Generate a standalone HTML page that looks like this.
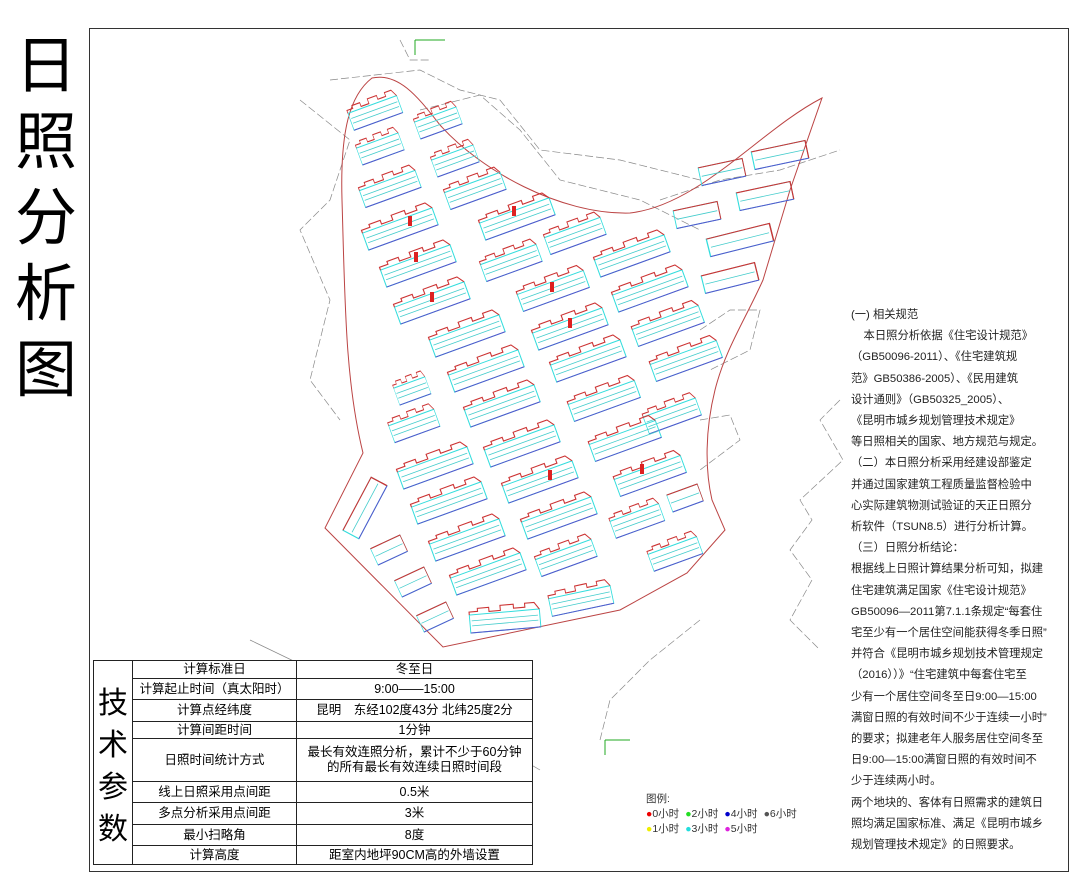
<!DOCTYPE html>
<html><head><meta charset="utf-8"><style>
body{margin:0;width:1080px;height:884px;background:#fff;position:relative;overflow:hidden;font-family:"Liberation Sans","Noto Sans CJK SC",sans-serif;}
.title{position:absolute;left:10px;top:22px;width:72px;font-size:62px;line-height:76px;text-align:center;color:#000;font-family:"Noto Sans CJK SC",sans-serif;}
.frame{position:absolute;left:89px;top:28px;width:978px;height:842px;border:1px solid #333;}
table{position:absolute;left:93px;top:660px;border-collapse:collapse;font-size:12.5px;font-family:"Liberation Sans","Noto Sans CJK SC",sans-serif;background:#fff;}
td{border:1.5px solid #222;text-align:center;padding:0;line-height:15px;}
.rt{position:absolute;left:851px;top:305px;width:220px;font-size:11.3px;line-height:21.2px;color:#222;white-space:nowrap;font-family:"Liberation Sans","Noto Sans CJK SC",sans-serif;}
.lg{position:absolute;left:646px;top:792px;font-size:10.5px;line-height:15px;color:#333;}
.lg span{margin-right:6px}
</style></head><body>
<div class="title">日<br>照<br>分<br>析<br>图</div>
<div class="frame"></div>
<svg width="1080" height="884" style="position:absolute;left:0;top:0">
<defs>
<g id="b">
<rect x="-37" y="-8" width="74" height="18" fill="none" stroke="#3dd" stroke-width="1"/>
<line x1="-35" y1="-2" x2="35" y2="-2" stroke="#4cc" stroke-width="0.8"/>
<line x1="-35" y1="3" x2="35" y2="3" stroke="#4cc" stroke-width="0.8"/>
<polyline points="-37,-8 -37,-11 -28,-11 -28,-14 -16,-14 -16,-10 -4,-10 -4,-15 10,-15 10,-11 22,-11 22,-15 32,-15 37,-8" fill="none" stroke="#c33" stroke-width="1.1"/>
<line x1="-37" y1="10" x2="37" y2="10" stroke="#55c" stroke-width="1"/>
</g>
<g id="s">
<rect x="-25" y="-9" width="50" height="18" fill="none" stroke="#3dd" stroke-width="1"/>
<line x1="-23" y1="0" x2="23" y2="0" stroke="#4cc" stroke-width="0.8"/>
<path d="M-25 -9 L25 -9 L25 9" fill="none" stroke="#c33" stroke-width="1.1"/>
<line x1="-25" y1="9" x2="25" y2="9" stroke="#55c" stroke-width="1"/>
</g>
</defs>
<g fill="none" stroke="#888" stroke-width="0.7" stroke-dasharray="8,3">
<path d="M330 80 L420 70 L460 90 L500 100 L540 150 L620 160 L700 180"/>
<path d="M300 100 L350 140 L330 200 L300 230 L330 300 L310 380 L340 420"/>
<path d="M420 110 L480 95 L520 130 L560 180 L640 200 L700 230"/>
<path d="M400 40 L410 60 L430 60"/>
<path d="M700 620 L650 660 L610 700 L600 740"/>
<path d="M660 200 L720 180 L780 170 L840 150"/>
<path d="M700 330 L730 310 L760 310 L750 350 L710 370"/>
<path d="M700 420 L730 415 L740 440 L700 470" />
<path d="M840 400 L820 420 L843 460 L800 500 L812 520 L790 550 L812 580 L790 620 L820 650"/>
<path d="M250 640 L520 770" stroke-dasharray="none"/>
<path d="M420 700 L540 770" stroke-dasharray="none"/>
</g>
<path d="M372 78 C400 72 420 100 440 125 C480 170 560 215 630 213 C700 205 760 130 822 98 L790 190 L763 280 C745 320 725 350 715 390 C705 430 705 470 712 500 L725 530 L687 573 L620 610 L443 647 L325 528 L363 453 C345 380 345 300 342 200 C340 130 350 95 372 78 Z" fill="none" stroke="#b44" stroke-width="1"/>
<g>
<use href="#b" transform="translate(375,112) rotate(-20) scale(0.7,1)"/>
<use href="#b" transform="translate(438,122) rotate(-20) scale(0.6,1)"/>
<use href="#b" transform="translate(380,148) rotate(-20) scale(0.6,1)"/>
<use href="#b" transform="translate(455,160) rotate(-20) scale(0.6,1)"/>
<use href="#b" transform="translate(390,188) rotate(-20) scale(0.8,1)"/>
<use href="#b" transform="translate(475,190) rotate(-20) scale(0.8,1)"/>
<use href="#b" transform="translate(400,228) rotate(-20)"/>
<use href="#b" transform="translate(517,218) rotate(-20)"/>
<use href="#b" transform="translate(575,235) rotate(-20) scale(0.8,1)"/>
<use href="#b" transform="translate(418,265) rotate(-20)"/>
<use href="#b" transform="translate(511,262) rotate(-20) scale(0.8,1)"/>
<use href="#b" transform="translate(632,255) rotate(-20)"/>
<use href="#b" transform="translate(432,302) rotate(-20)"/>
<use href="#b" transform="translate(553,290) rotate(-20) scale(0.95,1)"/>
<use href="#b" transform="translate(650,290) rotate(-20)"/>
<use href="#b" transform="translate(467,335) rotate(-20)"/>
<use href="#b" transform="translate(570,328) rotate(-20)"/>
<use href="#b" transform="translate(668,325) rotate(-20) scale(0.95,1)"/>
<use href="#b" transform="translate(412,390) rotate(-20) scale(0.45,1)"/>
<use href="#b" transform="translate(486,370) rotate(-20)"/>
<use href="#b" transform="translate(588,360) rotate(-20)"/>
<use href="#b" transform="translate(686,360) rotate(-20) scale(0.95,1)"/>
<use href="#b" transform="translate(502,405) rotate(-20)"/>
<use href="#b" transform="translate(604,400) rotate(-20) scale(0.95,1)"/>
<use href="#b" transform="translate(414,425) rotate(-20) scale(0.65,1)"/>
<use href="#b" transform="translate(672,415) rotate(-20) scale(0.75,1)"/>
<use href="#b" transform="translate(522,445) rotate(-20)"/>
<use href="#b" transform="translate(625,440) rotate(-20) scale(0.95,1)"/>
<use href="#b" transform="translate(435,467) rotate(-20)"/>
<use href="#b" transform="translate(540,481) rotate(-20)"/>
<use href="#b" transform="translate(650,475) rotate(-20) scale(0.95,1)"/>
<use href="#b" transform="translate(449,502) rotate(-20)"/>
<use href="#b" transform="translate(559,517) rotate(-20)"/>
<use href="#b" transform="translate(637,520) rotate(-20) scale(0.7,1)"/>
<use href="#s" transform="translate(685,498) rotate(-20) scale(0.65,1)"/>
<use href="#s" transform="translate(365,508) rotate(-62) scale(1.2,1)"/>
<use href="#s" transform="translate(389,550) rotate(-25) scale(0.65,1)"/>
<use href="#b" transform="translate(467,539) rotate(-20)"/>
<use href="#b" transform="translate(566,557) rotate(-20) scale(0.8,1)"/>
<use href="#b" transform="translate(675,553) rotate(-20) scale(0.7,1)"/>
<use href="#s" transform="translate(413,582) rotate(-25) scale(0.65,1)"/>
<use href="#b" transform="translate(488,573) rotate(-20)"/>
<use href="#b" transform="translate(581,600) rotate(-12) scale(0.85,1)"/>
<use href="#s" transform="translate(435,617) rotate(-25) scale(0.65,1)"/>
<use href="#b" transform="translate(505,620) rotate(-5) scale(0.95,1)"/>
<use href="#s" transform="translate(722,172) rotate(-12) scale(0.9,1)"/>
<use href="#s" transform="translate(780,155) rotate(-12) scale(1.1,1)"/>
<use href="#s" transform="translate(697,215) rotate(-12) scale(0.9,1)"/>
<use href="#s" transform="translate(765,196) rotate(-12) scale(1.1,1)"/>
<use href="#s" transform="translate(740,240) rotate(-14) scale(1.3,1)"/>
<use href="#s" transform="translate(730,278) rotate(-14) scale(1.1,1)"/>
</g>
<g fill="#d22">
<rect x="408" y="216" width="4" height="10"/><rect x="430" y="292" width="4" height="10"/><rect x="512" y="206" width="4" height="10"/>
<rect x="550" y="282" width="4" height="10"/><rect x="568" y="318" width="4" height="10"/><rect x="640" y="464" width="4" height="10"/>
<rect x="414" y="252" width="4" height="10"/><rect x="548" y="470" width="4" height="10"/>
</g>
<path d="M415 40 L415 55 M415 40 L445 40" stroke="#2a2" stroke-width="1" fill="none"/>
<path d="M605 740 L605 755 M605 740 L630 740" stroke="#2a2" stroke-width="1" fill="none"/>
</svg>
<table>
<tr style="height:18px"><td rowspan="9" style="width:38px;font-size:30px;line-height:42px;font-family:'Noto Sans CJK SC',sans-serif">技<br>术<br>参<br>数</td><td style="width:163px">计算标准日</td><td style="width:235px">冬至日</td></tr>
<tr style="height:21px"><td>计算起止时间（真太阳时）</td><td>9:00——15:00</td></tr>
<tr style="height:22px"><td>计算点经纬度</td><td>昆明　东经102度43分 北纬25度2分</td></tr>
<tr style="height:17px"><td>计算间距时间</td><td>1分钟</td></tr>
<tr style="height:43px"><td>日照时间统计方式</td><td>最长有效连照分析，累计不少于60分钟<br>的所有最长有效连续日照时间段</td></tr>
<tr style="height:21px"><td>线上日照采用点间距</td><td>0.5米</td></tr>
<tr style="height:22px"><td>多点分析采用点间距</td><td>3米</td></tr>
<tr style="height:21px"><td>最小扫略角</td><td>8度</td></tr>
<tr style="height:19px"><td>计算高度</td><td>距室内地坪90CM高的外墙设置</td></tr>
</table>
<div class="rt">(一) 相关规范<br>&nbsp;&nbsp;&nbsp;&nbsp;本日照分析依据《住宅设计规范》<br>（GB50096-2011）、《住宅建筑规<br>范》GB50386-2005）、《民用建筑<br>设计通则》（GB50325_2005）、<br>《昆明市城乡规划管理技术规定》<br>等日照相关的国家、地方规范与规定。<br>（二）本日照分析采用经建设部鉴定<br>并通过国家建筑工程质量监督检验中<br>心实际建筑物测试验证的天正日照分<br>析软件（TSUN8.5）进行分析计算。<br>（三）日照分析结论：<br>根据线上日照计算结果分析可知，拟建<br>住宅建筑满足国家《住宅设计规范》<br>GB50096—2011第7.1.1条规定“每套住<br>宅至少有一个居住空间能获得冬季日照”<br>并符合《昆明市城乡规划技术管理规定<br>（2016））》“住宅建筑中每套住宅至<br>少有一个居住空间冬至日9:00—15:00<br>满窗日照的有效时间不少于连续一小时”<br>的要求；拟建老年人服务居住空间冬至<br>日9:00—15:00满窗日照的有效时间不<br>少于连续两小时。<br>两个地块的、客体有日照需求的建筑日<br>照均满足国家标准、满足《昆明市城乡<br>规划管理技术规定》的日照要求。</div>
<div class="lg">图例:<br><span><b style="color:#e00">●</b>0小时</span><span><b style="color:#2d2">●</b>2小时</span><span><b style="color:#00c">●</b>4小时</span><span><b style="color:#555">●</b>6小时</span><br><span><b style="color:#ee0">●</b>1小时</span><span><b style="color:#2dd">●</b>3小时</span><span><b style="color:#d2d">●</b>5小时</span></div>
</body></html>
